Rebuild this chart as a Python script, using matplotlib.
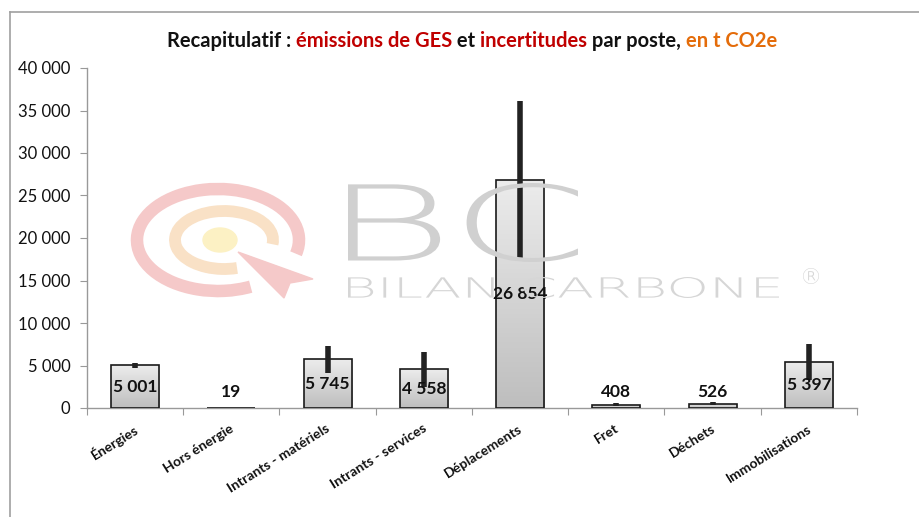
import numpy as np
import matplotlib
matplotlib.use('Agg')
import matplotlib.pyplot as plt
from matplotlib.patches import Arc, Ellipse, Polygon, PathPatch
from matplotlib.textpath import TextPath
from matplotlib.font_manager import FontProperties
from matplotlib.transforms import Affine2D, IdentityTransform
from matplotlib.lines import Line2D
from matplotlib.ticker import FuncFormatter, FixedLocator, NullFormatter

plt.rcParams['font.family'] = ['Lato', 'DejaVu Sans']

categories = ['Énergies', 'Hors énergie', 'Intrants - matériels', 'Intrants - services',
              'Déplacements', 'Fret', 'Déchets', 'Immobilisations']
values = [5001, 19, 5745, 4558, 26854, 408, 526, 5397]
uncertainty = [350, 0, 1600, 2050, 9250, 200, 150, 2100]

title_parts = [('Recapitulatif : ', '#111111'), ('émissions de GES', '#c00000'),
               (' et ', '#111111'), ('incertitudes', '#c00000'),
               (' par poste, ', '#111111'), ('en t CO2e', '#e46c0a')]

W, H = 920, 517
fig = plt.figure(figsize=(W / 100, H / 100), dpi=100)
fig.patch.set_facecolor('white')
idt = IdentityTransform()

# frame of the original picture
fig.add_artist(Line2D([10, 10], [0, H - 12], transform=idt, color='#a0a0a0', lw=1.2))
fig.add_artist(Line2D([10, W], [H - 12, H - 12], transform=idt, color='#a0a0a0', lw=1.2))


# --- watermark (image px, y down) ---
def px(x, y):
    return x, H - y


def wm_text(s, x0, y0, x1, y1, color):
    tp = TextPath((0, 0), s, size=100, prop=FontProperties(family='DejaVu Sans', weight='light'))
    ext = tp.get_extents()
    tr = Affine2D().translate(-ext.x0, -ext.y0).scale((x1 - x0) / ext.width, (y1 - y0) / ext.height) \
        .translate(x0, H - y1)
    fig.patches.append(PathPatch(tr.transform_path(tp), transform=idt,
                                 facecolor=color, edgecolor='none', zorder=0))


fig.patches.append(Arc(px(218, 240), 2 * 81, 2 * 51, theta1=-10, theta2=305, lw=9, color='#f5c9c9',
                       transform=idt, zorder=0))
fig.patches.append(Arc(px(224, 240), 2 * 49, 2 * 29, theta1=-5, theta2=295, lw=8.5, color='#f9e1c6',
                       transform=idt, zorder=0))
fig.patches.append(Ellipse(px(220, 240), 34, 24, color='#fcf1c4', transform=idt, zorder=0))
fig.patches.append(Polygon([px(238, 252), px(313, 279), px(290, 283), px(284, 298)],
                           closed=True, color='#f5c9c9', transform=idt, zorder=0))
wm_text('BC', 348, 183, 578, 262, '#d0d0d0')
wm_text('BILAN CARBONE', 348, 277, 779, 298, '#d6d6d6')
wm_text('®', 803, 268, 819, 284, '#d6d6d6')

# --- axes ---
ax = fig.add_axes([87 / W, 1 - 408 / H, (857 - 87) / W, (408 - 68) / H])
ax.patch.set_alpha(0)
x = np.arange(len(categories))

bars = ax.bar(x, values, width=0.5, facecolor='none', edgecolor='#1a1a1a', linewidth=1.2, zorder=3)
cmap = matplotlib.colors.LinearSegmentedColormap.from_list('g', ['#bebebe', '#ececec'])
grad = np.linspace(0, 1, 100).reshape(-1, 1)
for b in bars:
    bx, by, bw, bh = b.get_x(), b.get_y(), b.get_width(), b.get_height()
    im = ax.imshow(grad, extent=(bx, bx + bw, by, by + bh), origin='lower', aspect='auto',
                   cmap=cmap, zorder=2)
    im.set_clip_path(b)
ax.set_xlim(-0.5, len(categories) - 0.5)
ax.set_ylim(0, 40000)

ax.errorbar(x, values, yerr=uncertainty, fmt='none', ecolor='#222222', elinewidth=4, capsize=0, zorder=4)

fmt = lambda v: '{:,}'.format(int(v)).replace(',', ' ')
for xi, v in zip(x, values):
    ax.text(xi, max(v / 2, 1900), fmt(v), ha='center', va='center', fontsize=12.5,
            fontweight='bold', color='#111111', zorder=5)

for s in ['top', 'right']:
    ax.spines[s].set_visible(False)
for s in ['left', 'bottom']:
    ax.spines[s].set_color('#999999')
    ax.spines[s].set_linewidth(1)

ax.set_yticks(np.arange(0, 40001, 5000))
ax.yaxis.set_major_formatter(FuncFormatter(lambda v, p: fmt(v)))
ax.tick_params(axis='y', length=5, color='#999999', labelsize=12, labelcolor='#111111', pad=7)

ax.xaxis.set_major_locator(FixedLocator(np.arange(-0.5, len(categories), 1)))
ax.xaxis.set_major_formatter(NullFormatter())
ax.tick_params(axis='x', length=5, color='#999999')
for xi, c in zip(x, categories):
    ax.annotate(c, xy=(xi, 0), xycoords=('data', 'axes fraction'), xytext=(1, -14),
                textcoords='offset points', rotation=32, rotation_mode='anchor',
                ha='right', va='center', fontsize=10, fontweight='bold', color='#111111')

# --- multi-colour title ---
r = fig.canvas.get_renderer()
texts = [fig.text(0, 0, s, color=c, fontsize=14.5, fontweight='bold', transform=idt)
         for s, c in title_parts]
widths = [t.get_window_extent(r).width for t in texts]
xpos = 472 - sum(widths) / 2
for t, w in zip(texts, widths):
    t.set_position((xpos, H - 47))
    xpos += w

fig.savefig('out.png', dpi=100)
